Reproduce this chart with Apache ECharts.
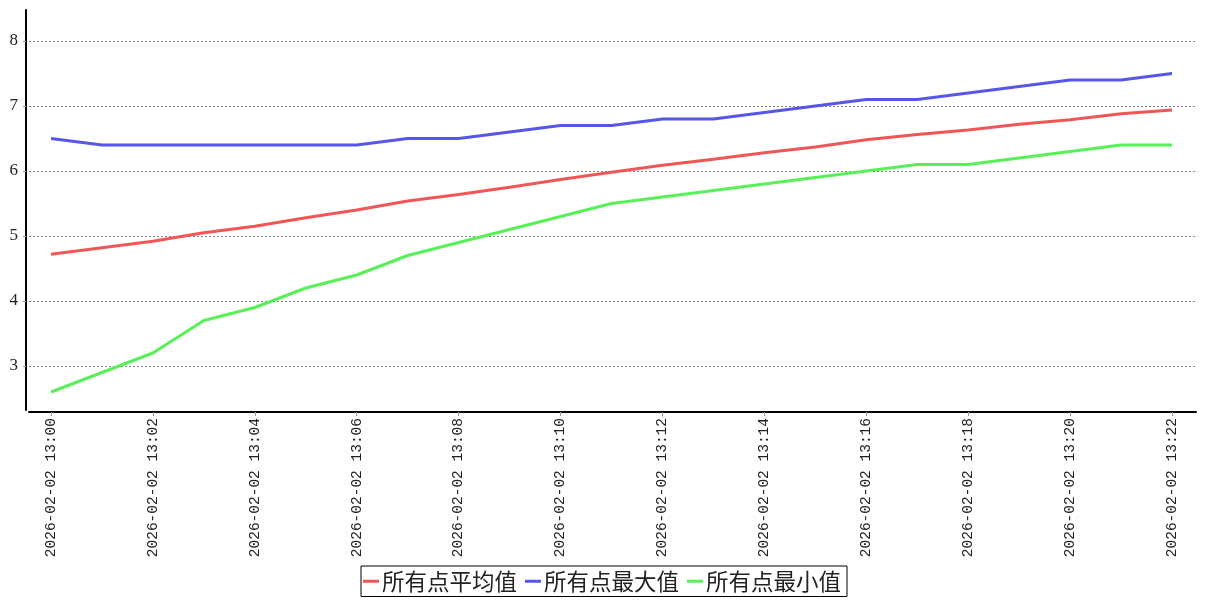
<!DOCTYPE html>
<html><head><meta charset="utf-8">
<script src="https://cdn.jsdelivr.net/npm/echarts@6/dist/echarts.min.js"></script>
<style>html,body{margin:0;padding:0;background:#fff}#c{width:1207px;height:600px}</style>
</head><body><div id="c"></div>
<script>
const datePrefix = '2026-02-02';
const times = ['13:00','13:01','13:02','13:03','13:04','13:05','13:06','13:07','13:08','13:09','13:10','13:11',
  '13:12','13:13','13:14','13:15','13:16','13:17','13:18','13:19','13:20','13:21','13:22'];
const seriesNames = ['所有点平均值','所有点最大值','所有点最小值'];
const avgValues = [4.72,4.82,4.92,5.05,5.15,5.28,5.40,5.54,5.64,5.75,5.87,5.98,6.09,6.18,6.28,6.37,6.48,6.56,6.63,6.72,6.79,6.88,6.94];
const maxValues = [6.5,6.4,6.4,6.4,6.4,6.4,6.4,6.5,6.5,6.6,6.7,6.7,6.8,6.8,6.9,7.0,7.1,7.1,7.2,7.3,7.4,7.4,7.5];
const minValues = [2.6,2.9,3.2,3.7,3.9,4.2,4.4,4.7,4.9,5.1,5.3,5.5,5.6,5.7,5.8,5.9,6.0,6.1,6.1,6.2,6.3,6.4,6.4];
const xLabelTimes = ['13:00','13:02','13:04','13:06','13:08','13:10','13:12','13:14','13:16','13:18','13:20','13:22'];
const yTickValues = [3,4,5,6,7,8];
const colors = ['#f05656','#5656e8','#58f058'];

const chart = echarts.init(document.getElementById('c'), null, {renderer:'canvas'});
const xPositions = xLabelTimes.map(t => times.indexOf(t));
const toPairs = arr => times.map((t,i) => [i, arr[i]]);
const allSeries = [avgValues, maxValues, minValues];

chart.setOption({
  animation: false,
  backgroundColor: '#fff',
  color: colors,
  grid: {left: 29, right: 11, top: 10, bottom: 190, containLabel: false},
  legend: {
    data: seriesNames.map(n => ({name: n, icon: 'rect'})),
    left: 361, top: 566,
    itemWidth: 16, itemHeight: 3, itemGap: 8,
    padding: [4, 6, 4, 2],
    borderColor: '#000', borderWidth: 1, borderRadius: 0,
    textStyle: {fontFamily: '"Noto Sans CJK SC"', fontSize: 22.5, color: '#222', padding: [0,0,0,-2]}
  },
  xAxis: {
    type: 'value', min: -0.4318, max: 22.471, offset: 2,
    axisLine: {show: true, onZero: false, lineStyle: {color: '#000', width: 2}},
    axisTick: {show: true, length: 4, customValues: xPositions, lineStyle: {color: '#999'}},
    axisLabel: {
      customValues: xPositions, rotate: 90, margin: 6,
      fontFamily: '"Liberation Mono"', fontSize: 14.5, color: '#222',
      formatter: v => datePrefix + ' ' + times[Math.round(v)]
    },
    splitLine: {show: false}
  },
  yAxis: {
    type: 'value', min: 2.323, max: 8.477, offset: 3,
    axisLine: {show: true, onZero: false, lineStyle: {color: '#000', width: 2}},
    axisTick: {show: true, length: 3, customValues: yTickValues, lineStyle: {color: '#999'}},
    axisLabel: {customValues: yTickValues, margin: 8, fontFamily: '"Liberation Serif"', fontSize: 17, color: '#222'},
    splitLine: {show: true, lineStyle: {color: '#888', type: [2, 2], width: 1}}
  },
  series: allSeries.map((arr, k) => ({
    name: seriesNames[k], type: 'line', data: toPairs(arr),
    showSymbol: false, symbol: 'none',
    lineStyle: {width: 3, color: colors[k]},
    itemStyle: {color: colors[k]}
  }))
});
</script></body></html>
